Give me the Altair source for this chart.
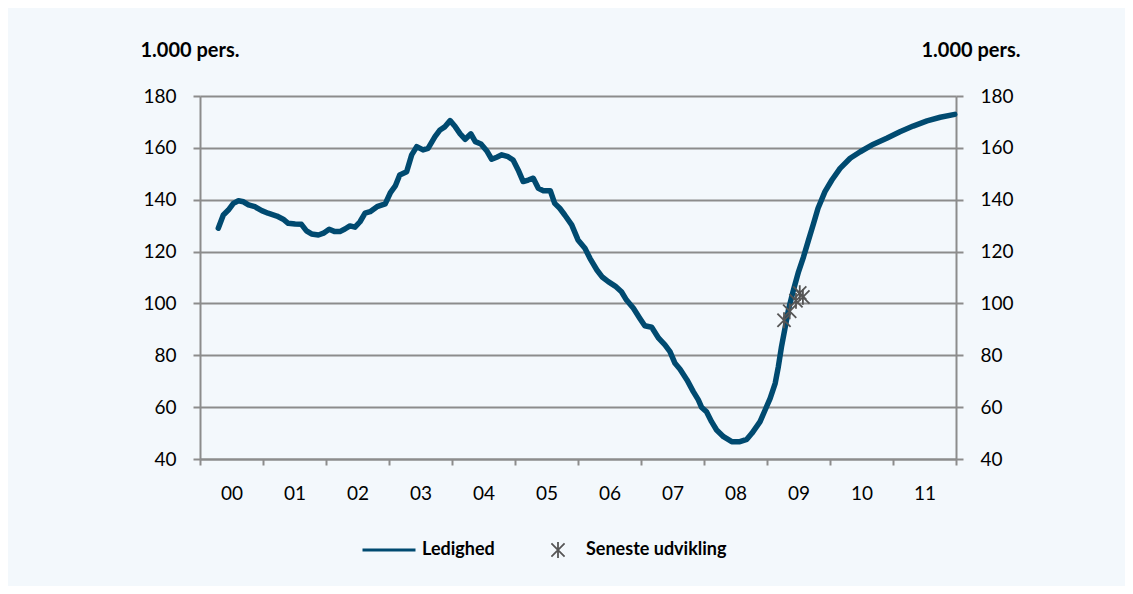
import altair as alt
import pandas as pd

# ---- data ----
years = [2000.29, 2000.37, 2000.45, 2000.53, 2000.61, 2000.69, 2000.77, 2000.87, 2000.98,
         2001.08, 2001.22, 2001.32, 2001.40, 2001.51, 2001.61, 2001.69, 2001.77, 2001.88, 2001.96,
         2002.05, 2002.14, 2002.22, 2002.30, 2002.38, 2002.46, 2002.54, 2002.62, 2002.70, 2002.81, 2002.94,
         2003.02, 2003.10, 2003.17, 2003.28, 2003.36, 2003.44, 2003.54, 2003.62, 2003.73, 2003.81, 2003.89, 2003.97,
         2004.05, 2004.13, 2004.21, 2004.30, 2004.37, 2004.46, 2004.55, 2004.63, 2004.71, 2004.79, 2004.89, 2004.97,
         2005.05, 2005.13, 2005.21, 2005.29, 2005.37, 2005.45, 2005.56, 2005.63, 2005.71, 2005.79, 2005.90,
         2006.00, 2006.11, 2006.19, 2006.30, 2006.38, 2006.48, 2006.59, 2006.69, 2006.77, 2006.88, 2006.98,
         2007.06, 2007.17, 2007.28, 2007.38, 2007.46, 2007.54, 2007.62, 2007.73, 2007.83, 2007.91, 2007.96,
         2008.04, 2008.12, 2008.20, 2008.31, 2008.44, 2008.57, 2008.68, 2008.76, 2008.89, 2008.97,
         2009.05, 2009.13, 2009.18, 2009.23, 2009.29, 2009.34, 2009.42, 2009.50, 2009.58, 2009.66, 2009.74, 2009.81, 2009.92,
         2010.03, 2010.16, 2010.32, 2010.48, 2010.69, 2010.90,
         2011.11, 2011.32, 2011.54, 2011.75, 2011.98]
ledighed = [129.0, 134.1, 136.0, 138.6, 139.6, 139.2, 138.0, 137.3, 135.8,
            134.8, 133.7, 132.5, 130.9, 130.6, 130.5, 128.0, 126.8, 126.4, 127.1,
            128.6, 127.7, 127.7, 128.7, 129.9, 129.4, 131.5, 134.8, 135.4, 137.3, 138.4,
            142.6, 145.3, 149.5, 150.8, 157.3, 160.5, 159.2, 159.8, 164.3, 166.9, 168.2, 170.5,
            168.2, 165.4, 163.3, 165.4, 162.4, 161.5, 158.9, 155.6, 156.4, 157.3, 156.6, 155.3,
            151.5, 147.0, 147.6, 148.3, 144.4, 143.5, 143.5, 138.6, 136.7, 134.1, 130.3,
            124.5, 121.3, 117.4, 112.9, 110.3, 108.4, 106.7, 104.5, 101.3, 98.1, 94.3,
            91.4, 90.8, 86.6, 84.0, 81.4, 76.9, 74.6, 70.5, 66.0, 62.8, 60.0,
            58.2, 54.4, 51.2, 48.6, 46.7, 46.7, 47.6, 49.9, 54.4, 58.9,
            63.4, 69.2, 75.6, 83.3, 91.0, 97.5, 105.2, 112.2, 118.0, 124.5, 130.9, 136.7, 143.1,
            147.6, 152.1, 156.0, 158.5, 161.4, 163.7,
            166.2, 168.4, 170.4, 171.8, 172.9]

seneste_years = [2009.27, 2009.36, 2009.46, 2009.52, 2009.57]
seneste = [93.5, 97.0, 101.0, 104.0, 102.5]

series_names = ["Ledighed", "Seneste udvikling"]
y_ticks = [40, 60, 80, 100, 120, 140, 160, 180]
x_ticks = list(range(2000, 2013))
unit_title = "1.000 pers."

# ---- style ----
BLUE = "#004a70"
MARK_GRAY = "#555555"
GRID = "#8c8c8c"
BG = "#f3f8fc"
FONT = "Lato"

line_df = pd.DataFrame({"year": years, "value": ledighed})
pt_df = pd.DataFrame({"year": seneste_years, "value": seneste,
                      "series": ["Seneste udvikling"] * len(seneste)})

x_enc = alt.X(
    "year:Q",
    scale=alt.Scale(domain=[2000, 2012], nice=False, zero=False),
    axis=alt.Axis(values=x_ticks,
                  labelExpr="datum.value < 2012 ? slice(toString(datum.value), 2) : ''",
                  labelOffset=31.5, labelFlush=False, tickSize=6, labelPadding=19,
                  grid=False, title=None),
)
yscale = alt.Scale(domain=[40, 180], nice=False, zero=False)

line = alt.Chart(line_df).mark_line(
    color=BLUE, strokeWidth=5.5, strokeJoin="round", strokeCap="round"
).encode(
    x=x_enc,
    y=alt.Y("value:Q", scale=yscale,
            axis=alt.Axis(values=y_ticks, orient="left", title=unit_title, titleAngle=0,
                          titleAlign="left", titleBaseline="alphabetic", titleX=-60, titleY=-40,
                          grid=True, tickSize=7, labelPadding=17)),
)

# asterisk drawn small inside a larger symbol box (so the legend label sits further right)
asterisk = "M-0.3,-0.3L0.3,0.3M-0.3,0.3L0.3,-0.3M0,-0.36L0,0.36"
leg = alt.Legend(title=None, orient="none", legendX=161, legendY=443, direction="horizontal",
                 labelFont=FONT, labelFontSize=18, labelFontWeight="bold", labelColor="#000000",
                 labelOffset=5, columnPadding=40, padding=0, clipHeight=22)

pts = alt.Chart(pt_df).mark_point(filled=False, opacity=1).encode(
    x=x_enc,
    y=alt.Y("value:Q", scale=yscale,
            axis=alt.Axis(values=y_ticks, orient="right", title=unit_title, titleAngle=0,
                          titleAlign="right", titleBaseline="alphabetic", titleX=64, titleY=-40,
                          grid=False, tickSize=7, labelPadding=17)),
    color=alt.Color("series:N", scale=alt.Scale(domain=series_names, range=[BLUE, MARK_GRAY]), legend=leg),
    shape=alt.Shape("series:N", scale=alt.Scale(domain=series_names, range=["stroke", asterisk]), legend=leg),
    size=alt.Size("series:N", scale=alt.Scale(domain=series_names, range=[2809, 1936]), legend=leg),
    strokeWidth=alt.StrokeWidth("series:N", scale=alt.Scale(domain=series_names, range=[3, 1.8]), legend=leg),
)

chart = alt.layer(line, pts).resolve_scale(y="independent").properties(
    width=756, height=363,
    padding={"left": 192, "top": 88, "right": 169, "bottom": 127},
    autosize=alt.AutoSizeParams(type="none"),
    background=BG,
).configure_axis(
    labelFont=FONT, labelFontSize=19, labelColor="#000000",
    titleFont=FONT, titleFontSize=20, titleFontWeight="bold", titleColor="#000000",
    domainColor=GRID, domainWidth=2, tickColor=GRID, tickWidth=2,
    gridColor=GRID, gridWidth=2,
).configure_view(stroke=None)

chart.save("out.html", embed_options={"renderer": "svg", "actions": False})
